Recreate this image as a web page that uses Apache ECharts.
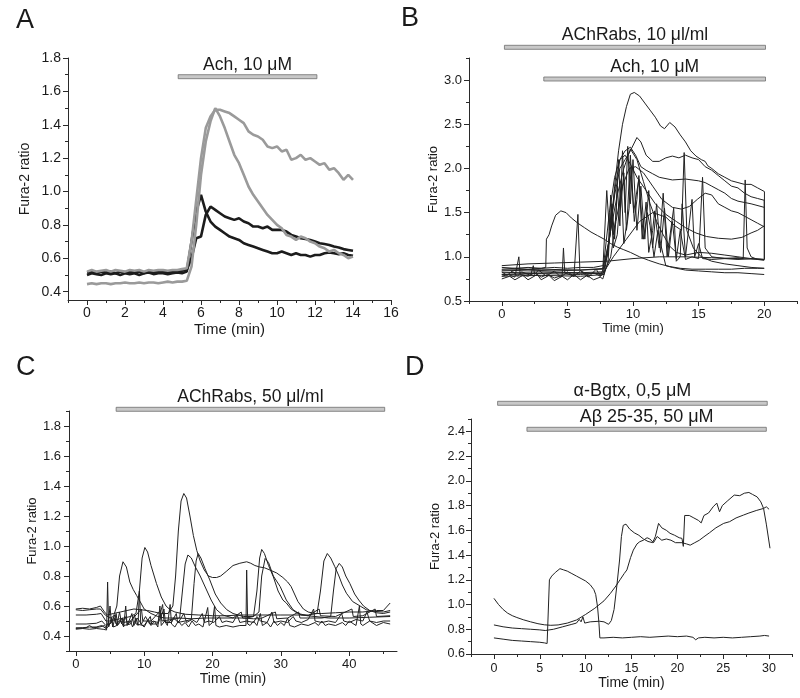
<!DOCTYPE html>
<html><head><meta charset="utf-8">
<script src="https://cdn.jsdelivr.net/npm/echarts@6/dist/echarts.min.js"></script>
<style>html,body{margin:0;padding:0;background:#fff}#c{width:800px;height:698px}</style>
</head><body><div id="c"></div>
<script>
const FONT = '"Liberation Sans", Arial, sans-serif';

// ---------- Panel A ----------
const aTime = [0,0.25,0.5,0.75,1,1.25,1.5,1.75,2,2.25,2.5,2.75,3,3.25,3.5,3.75,4,4.25,4.5,4.75,5,5.25,5.5,5.75,6,6.25,6.5,6.75,7,7.25,7.5,7.75,8,8.25,8.5,8.75,9,9.25,9.5,9.75,10,10.25,10.5,10.75,11,11.25,11.5,11.75,12,12.25,12.5,12.75,13,13.25,13.5,13.75,14];
const aGray1 = [0.52,0.53,0.52,0.525,0.53,0.52,0.53,0.525,0.52,0.53,0.525,0.53,0.52,0.53,0.525,0.53,0.53,0.525,0.53,0.53,0.535,
  0.54,0.70,0.95,1.20,1.38,1.45,1.49,
  1.49,1.48,1.47,1.45,1.43,1.41,1.36,1.34,1.33,1.31,1.27,1.26,1.27,1.24,1.25,1.19,1.20,1.22,1.19,1.20,1.18,1.16,1.17,1.13,1.14,1.11,1.07,1.10,1.07];
const aGray2 = [0.445,0.45,0.445,0.45,0.45,0.445,0.45,0.45,0.455,0.45,0.45,0.455,0.45,0.455,0.455,0.45,0.455,0.46,0.455,0.46,0.46,0.465,
  0.55,0.80,1.10,1.30,1.42,1.50,
  1.45,1.38,1.30,1.22,1.17,1.10,1.03,0.98,0.94,0.90,0.86,0.83,0.80,0.78,0.74,0.73,0.71,0.73,0.72,0.70,0.69,0.67,0.66,0.64,0.65,0.63,0.62,0.60,0.61];
const aBlack1 = [0.50,0.51,0.505,0.5,0.51,0.505,0.51,0.5,0.51,0.505,0.51,0.5,0.51,0.515,0.505,0.51,0.51,0.505,0.51,0.515,0.51,
  0.52,0.70,0.88,0.98,0.88,0.82,0.79,
  0.77,0.75,0.73,0.72,0.71,0.69,0.68,0.67,0.66,0.65,0.64,0.63,0.63,0.64,0.63,0.62,0.63,0.62,0.62,0.61,0.62,0.62,0.63,0.635,0.63,0.625,0.63,0.62,0.615];
const aBlack2 = [0.515,0.52,0.51,0.52,0.515,0.52,0.51,0.52,0.515,0.52,0.515,0.52,0.51,0.52,0.515,0.52,0.52,0.515,0.52,0.52,0.525,
  0.53,0.60,0.72,0.73,0.86,0.91,0.89,
  0.87,0.85,0.84,0.83,0.84,0.82,0.81,0.79,0.79,0.78,0.79,0.77,0.77,0.77,0.76,0.74,0.73,0.72,0.715,0.71,0.70,0.69,0.685,0.68,0.67,0.665,0.655,0.65,0.645];
const aXTicks = [0,2,4,6,8,10,12,14,16];
const aYTicks = [0.4,0.6,0.8,1.0,1.2,1.4,1.6,1.8];

// ---------- Panel B ----------
const b1 = [[0,0.88],[1,0.87],[2,0.88],[3,0.87],[4,0.88],[5,0.87],[6,0.88],[7,0.88],[7.7,0.9],[8.0,1.0],[8.3,1.3],[8.6,1.8],[8.9,2.2],[9.2,2.5],[9.5,2.7],[9.8,2.84],[10.1,2.86],[10.5,2.82],[10.9,2.74],[11.3,2.66],[11.7,2.58],[12.1,2.48],[12.4,2.45],[12.8,2.52],[13.2,2.47],[13.6,2.38],[14.0,2.3],[14.4,2.2],[14.8,2.14],[15.2,2.1],[15.5,2.08],[15.7,2.03],[16.0,2.0],[16.5,1.94],[17.0,1.9],[17.5,1.86],[18.0,1.84],[18.5,1.82],[19.0,1.82],[19.5,1.78],[20.0,1.74]];
const b2 = [[0,0.84],[2,0.85],[4,0.84],[6,0.85],[7.7,0.86],[8.2,1.2],[8.6,1.7],[9.0,2.0],[9.4,2.1],[9.8,2.2],[10.3,2.35],[10.6,2.3],[11.0,2.15],[11.5,2.08],[12.0,2.08],[12.5,2.12],[13.0,2.14],[13.5,2.12],[14.0,2.15],[14.5,2.12],[15.0,2.1],[15.5,2.02],[16.0,1.98],[16.5,1.92],[17.0,1.86],[17.5,1.8],[18.0,1.78],[18.5,1.72],[19.0,1.68],[19.5,1.66],[20.0,1.64],[20.02,0.97]];
const b3 = [[0,0.82],[3,0.83],[6,0.82],[7.7,0.83],[8.2,1.5],[8.6,1.9],[9.0,2.1],[9.4,2.2],[9.8,2.24],[10.2,2.15],[10.6,2.02],[11.0,1.98],[11.5,1.94],[12.0,1.9],[13.0,1.87],[14.0,1.88],[15.0,1.86],[15.5,1.84],[16.0,1.8],[16.5,1.76],[17.0,1.72],[17.5,1.66],[18.0,1.63],[19.0,1.6],[20.0,1.56]];
const b4 = [[0,0.8],[3,0.81],[6,0.8],[7.8,0.82],[8.3,1.0],[8.7,1.4],[9.2,1.8],[9.7,2.0],[10.2,2.02],[10.8,1.95],[11.5,1.8],[12.2,1.65],[13.0,1.56],[13.7,1.54],[14.3,1.57],[14.9,1.65],[15.5,1.72],[16.0,1.7],[16.5,1.6],[17.0,1.56],[17.5,1.52],[18.0,1.5],[18.5,1.46],[19.0,1.42],[19.5,1.38],[20.0,1.34]];
const b5 = [[0,0.78],[3,0.79],[6,0.78],[7.8,0.8],[8.2,1.2],[8.6,1.75],[9.0,2.1],[9.4,2.15],[9.8,2.05],[10.3,1.9],[11.0,1.75],[11.7,1.6],[12.5,1.48],[13.3,1.4],[14.0,1.33],[14.8,1.27],[15.6,1.23],[16.5,1.21],[17.5,1.2],[18.3,1.22],[19.0,1.27],[19.5,1.3],[20.0,1.35]];
const b6 = [[0,0.86],[1,0.87],[2,0.86],[3,0.87],[3.35,0.88],[3.4,1.2],[3.6,1.25],[3.8,1.35],[4.1,1.47],[4.5,1.52],[4.9,1.5],[5.3,1.44],[5.8,1.38],[6.3,1.33],[6.8,1.28],[7.3,1.24],[7.8,1.2],[8.3,1.15],[8.8,1.11],[9.3,1.08],[9.8,1.05],[10.5,1.0],[11.2,0.96],[12.0,0.92],[12.8,0.89],[13.6,0.87],[14.5,0.86],[15.5,0.86],[16.5,0.86],[17.5,0.86],[18.5,0.87],[19.5,0.87],[20.0,0.87]];
const b7 = [[0,0.9],[2,0.92],[4,0.93],[6,0.94],[8,0.95],[10,0.98],[12,1.0],[14,1.0],[16,0.99],[18,0.98],[20,0.97]];
const b8 = [[0,0.78],[0.5,0.8],[1.0,0.77],[1.3,1.0],[1.4,0.8],[2,0.78],[2.5,0.82],[3,0.77],[3.5,0.8],[4,0.76],[4.6,0.79],[4.7,1.1],[4.8,0.82],[5.5,0.78],[5.8,1.48],[5.95,0.85],[6.5,0.8],[7,0.82],[7.5,0.78],[7.7,0.85],[8.0,1.75],[8.2,1.3],[8.4,1.6],[8.6,1.2],[8.8,1.8],[9.0,1.35],[9.2,2.2],[9.4,1.5],[9.6,2.25],[9.8,1.6],[10.0,2.1],[10.3,1.3],[10.6,1.8],[10.9,1.2],[11.2,1.75],[11.5,1.1],[11.8,1.6],[12.1,1.05],[12.4,1.55],[12.7,1.0],[13.0,1.4],[13.3,0.98],[13.6,1.3],[14.0,0.97],[14.5,1.0],[15.0,0.98],[15.3,1.9],[15.5,1.1],[16.0,1.0],[17,0.98],[18,0.99],[18.4,0.98],[18.55,1.87],[18.7,1.1],[19,1.0],[19.5,0.97],[20,0.96]];
const b9 = [[0,0.83],[0.4,0.79],[0.8,0.84],[1.2,0.78],[1.5,0.83],[2.2,0.79],[2.4,0.9],[2.5,0.8],[2.8,0.85],[3.4,0.78],[4.0,0.84],[4.5,0.77],[5.0,0.83],[5.5,0.78],[6.0,0.84],[6.6,0.77],[7.2,0.86],[7.5,0.78],[7.7,0.8],[8.1,1.05],[8.3,1.7],[8.5,1.25],[8.7,1.45],[8.9,2.1],[9.05,1.55],[9.3,1.95],[9.5,1.3],[9.7,1.55],[9.85,2.02],[10.1,1.4],[10.3,1.65],[10.45,1.92],[10.7,1.2],[11.0,1.62],[11.2,1.05],[11.5,1.3],[11.65,1.52],[12.0,1.1],[12.3,1.72],[12.6,1.0],[13.1,1.55],[13.3,0.95],[13.6,1.0],[13.75,1.6],[14.0,1.0],[14.5,1.65],[14.7,1.0],[15.0,1.15],[15.3,0.98],[16.0,0.97],[17.0,0.98],[18.0,0.97],[19.0,0.98],[20.0,0.97]];
const b10 = [[0,0.75],[0.6,0.78],[1,0.74],[1.6,0.79],[2,0.74],[2.7,0.8],[3,0.74],[3.6,0.79],[4,0.73],[4.6,0.78],[5,0.74],[5.5,0.8],[6,0.74],[6.5,0.79],[7,0.74],[7.5,0.77],[7.7,0.75],[8.1,0.95],[8.35,1.55],[8.5,1.1],[8.8,1.25],[9.1,1.85],[9.3,1.15],[9.55,1.4],[9.8,2.15],[10.05,1.5],[10.25,1.7],[10.45,1.88],[10.8,1.2],[11.1,1.5],[11.3,1.35],[11.6,1.0],[11.9,1.3],[12.1,1.15],[12.5,0.9],[13.0,0.88],[14,0.85],[15,0.84],[16,0.83],[17,0.82],[18,0.82],[19,0.81],[20,0.8]];
const b11 = [[0,0.85],[3,0.86],[6,0.85],[7.8,0.87],[8.3,1.3],[8.8,1.7],[9.3,2.0],[9.8,2.22],[10.3,2.1],[10.8,1.85],[11.3,1.6],[11.8,1.4],[12.3,1.25],[12.8,1.12],[13.3,1.05],[14,1.02],[15,1.05],[16,1.04],[17,1.02],[18,1.0],[19,0.98],[20,0.97],[20.02,1.74]];
const b12 = [[0,0.8],[4,0.82],[7.7,0.81],[8.5,1.0],[9.5,1.2],[10.5,1.4],[11.5,1.5],[12.5,1.45],[13.2,1.35],[13.7,1.3],[13.9,2.18],[14.1,1.3],[14.6,1.1],[15.2,1.0],[16,0.95],[17,0.92],[18,0.9],[19,0.88],[20,0.87]];
const bXTicks = [0,5,10,15,20];
const bYTicks = [0.5,1.0,1.5,2.0,2.5,3.0];

// ---------- Panel C ----------
const c1 = [[0,0.58],[1,0.585],[2,0.58],[3,0.59],[3.6,0.6],[4.2,0.56],[4.6,0.54],[5.5,0.55],[6.5,0.56],[7.5,0.57],[8.5,0.58],[9.5,0.575],[10.5,0.57],[11.5,0.56],[12.5,0.55],[13.5,0.55],[14.2,0.6],[14.6,0.8],[15.0,1.1],[15.4,1.3],[15.8,1.35],[16.2,1.32],[16.7,1.2],[17.2,1.07],[17.7,0.97],[18.2,0.9],[18.8,0.84],[19.4,0.8],[20,0.79],[20.6,0.79],[21.2,0.8],[22,0.83],[23,0.87],[24,0.885],[25,0.895],[25.6,0.885],[26.2,0.87],[26.9,0.86],[27.6,0.855],[28.4,0.84],[29.4,0.82],[30.3,0.79],[31.0,0.76],[31.5,0.73],[32,0.68],[32.5,0.63],[33.3,0.58],[34,0.56],[35,0.55],[36,0.55],[38,0.555],[40,0.56],[42,0.56],[44,0.57],[45,0.57],[46,0.62]];
const c2 = [[0,0.575],[1,0.57],[2,0.575],[3,0.58],[3.6,0.58],[4.3,0.54],[5,0.52],[5.5,0.53],[6.0,0.6],[6.4,0.8],[6.9,0.895],[7.4,0.86],[7.9,0.76],[8.4,0.71],[8.9,0.67],[9.4,0.63],[10,0.58],[11,0.55],[12,0.53],[13,0.52],[15,0.52],[17,0.515],[19,0.52],[21,0.52],[23,0.52],[25,0.52],[26,0.53],[26.5,0.7],[26.9,0.92],[27.2,0.977],[27.6,0.95],[28.2,0.87],[28.9,0.795],[29.6,0.7],[30.3,0.64],[30.8,0.62],[31.5,0.58],[32.5,0.55],[34,0.535],[35.6,0.58],[35.8,0.535],[38,0.53],[40.4,0.58],[40.6,0.53],[42,0.535],[43.8,0.58],[44,0.53],[46,0.535]];
const c3 = [[0,0.54],[1.5,0.54],[3,0.545],[3.7,0.55],[4.4,0.5],[5,0.5],[6,0.51],[7,0.52],[8,0.53],[8.8,0.55],[9.3,0.7],[9.7,0.92],[10.1,0.99],[10.5,0.96],[11,0.87],[11.8,0.75],[12.5,0.66],[13.2,0.6],[13.8,0.575],[14.5,0.56],[16,0.545],[18,0.54],[20,0.535],[22,0.535],[24,0.54],[26,0.54],[28,0.54],[30,0.54],[32,0.54],[34,0.54],[35.3,0.55],[35.8,0.7],[36.3,0.9],[36.8,0.95],[37.3,0.92],[37.9,0.862],[38.5,0.8],[39.0,0.74],[39.6,0.685],[40.5,0.63],[41.6,0.6],[42.5,0.575],[43.5,0.565],[45,0.56],[46,0.57]];
const c4 = [[0,0.48],[1.5,0.48],[3,0.485],[3.8,0.5],[4.4,0.47],[5,0.48],[5.7,0.54],[5.9,0.48],[6.8,0.52],[7,0.49],[8,0.5],[9.6,0.58],[9.8,0.5],[11,0.5],[12.4,0.57],[12.6,0.5],[14,0.51],[15.2,0.52],[15.6,0.7],[16.0,0.88],[16.4,0.94],[16.9,0.92],[17.5,0.86],[18.2,0.8],[19,0.72],[19.8,0.64],[20.6,0.575],[21.5,0.54],[23,0.52],[24.2,0.56],[24.4,0.52],[26,0.515],[27,0.515],[29.2,0.56],[29.4,0.515],[31,0.52],[32.6,0.56],[32.8,0.52],[35,0.52],[36,0.52],[37.3,0.53],[37.7,0.7],[38.1,0.85],[38.55,0.884],[39.0,0.86],[39.5,0.8],[40.1,0.75],[40.8,0.68],[41.4,0.64],[42.1,0.6],[43,0.57],[44,0.555],[45,0.55],[46,0.56]];
const c5 = [[0,0.45],[1.5,0.455],[2,0.47],[2.5,0.455],[3.5,0.46],[4.2,0.47],[4.5,0.45],[5.3,0.5],[5.5,0.46],[6,0.47],[6.8,0.52],[7,0.47],[8,0.48],[8.6,0.54],[8.8,0.48],[10,0.47],[10.9,0.53],[11.1,0.48],[12,0.48],[12.9,0.58],[13.1,0.49],[14,0.49],[14.7,0.55],[14.9,0.49],[16,0.5],[16.9,0.51],[17.3,0.75],[17.6,0.9],[17.9,0.95],[18.3,0.92],[18.9,0.85],[19.6,0.774],[20.4,0.68],[21.2,0.62],[22.1,0.575],[23,0.55],[24.5,0.53],[26,0.53],[26.8,0.56],[27.2,0.8],[27.7,0.917],[28.2,0.89],[28.9,0.8],[29.9,0.73],[30.8,0.64],[31.8,0.575],[33,0.54],[35,0.53],[37,0.52],[40,0.52],[43,0.525],[46,0.53]];
const c6 = [[0,0.445],[1,0.45],[2,0.445],[3,0.45],[4,0.445],[4.5,0.44],[4.65,0.76],[4.8,0.46],[5.2,0.52],[5.4,0.46],[5.9,0.55],[6.1,0.47],[6.6,0.5],[7.0,0.46],[7.3,0.6],[7.5,0.47],[8.0,0.5],[8.3,0.46],[8.8,0.52],[9.1,0.47],[9.3,0.7],[9.5,0.48],[10,0.46],[10.6,0.51],[11,0.47],[11.5,0.5],[12.0,0.46],[12.3,0.6],[12.5,0.47],[13,0.5],[13.4,0.47],[13.8,0.61],[14,0.48],[14.5,0.46],[15,0.5],[15.5,0.47],[16,0.49],[16.5,0.46],[17,0.5],[17.5,0.47],[18,0.48],[18.6,0.46],[19.3,0.59],[19.5,0.47],[20,0.49],[20.3,0.6],[20.5,0.47],[21,0.46],[22,0.47],[23,0.46],[24,0.47],[24.9,0.47],[25,0.84],[25.15,0.48],[25.5,0.47],[26,0.5],[26.5,0.47],[27,0.55],[27.3,0.47],[28,0.49],[28.5,0.46],[29,0.5],[29.5,0.47],[30,0.49],[30.5,0.47],[31,0.52],[31.3,0.47],[32,0.46],[33,0.48],[34,0.47],[35,0.49],[35.5,0.47],[36,0.5],[36.5,0.47],[37,0.48],[38,0.47],[39,0.49],[39.5,0.47],[40,0.5],[41,0.47],[41.5,0.6],[41.7,0.48],[42,0.47],[43,0.5],[44,0.47],[45,0.49],[46,0.48]];
const c7 = [[0,0.455],[1,0.455],[2,0.46],[3,0.46],[3.8,0.47],[4.4,0.45],[4.8,0.5],[5.0,0.6],[5.2,0.49],[5.6,0.52],[6,0.47],[6.4,0.56],[6.7,0.48],[7.2,0.53],[7.6,0.48],[8.2,0.55],[8.5,0.47],[9,0.52],[9.6,0.48],[10.2,0.53],[10.8,0.48],[11.3,0.5],[12,0.49],[12.7,0.61],[12.9,0.5],[13.5,0.49],[14.3,0.52],[15,0.49],[15.8,0.55],[16.2,0.49],[17,0.51],[17.7,0.49],[18.5,0.55],[18.8,0.49],[19.5,0.5],[20.2,0.49],[21,0.53],[21.4,0.49],[22,0.5],[23,0.49],[23.6,0.54],[24,0.49],[25,0.5],[26,0.49],[26.5,0.53],[27,0.5],[28,0.49],[28.7,0.56],[29,0.49],[30,0.5],[31,0.49],[31.8,0.53],[32.2,0.5],[33,0.49],[34,0.51],[34.8,0.58],[35,0.5],[36,0.49],[37,0.5],[38,0.49],[38.9,0.55],[39.2,0.5],[40,0.49],[41,0.51],[42,0.5],[42.6,0.56],[43,0.5],[44,0.49],[45,0.5],[46,0.5]];
const cXTicks = [0,10,20,30,40];
const cYTicks = [0.4,0.6,0.8,1.0,1.2,1.4,1.6,1.8];

// ---------- Panel D ----------
const d1 = [[0,0.73],[1,0.72],[2,0.71],[3,0.705],[4,0.7],[5,0.695],[5.5,0.69],[5.8,0.685],[5.95,0.7],[6.05,1.2],[6.3,1.23],[6.7,1.26],[7.2,1.29],[7.6,1.28],[8.0,1.27],[8.5,1.25],[9.0,1.23],[9.5,1.21],[10.0,1.19],[10.5,1.16],[10.9,1.12],[11.1,1.08],[11.3,0.98],[11.45,0.85],[11.55,0.73],[12,0.73],[13,0.735],[14,0.73],[15,0.735],[16,0.74],[17,0.735],[18,0.74],[19,0.745],[20,0.74],[21,0.745],[21.7,0.735],[22,0.715],[22.3,0.73],[23,0.735],[24,0.73],[25,0.735],[26,0.73],[27,0.735],[28,0.74],[29,0.745],[29.5,0.75],[30,0.745]];
const d2 = [[0,0.835],[1,0.82],[2,0.81],[3,0.805],[4,0.8],[5,0.795],[5.6,0.79],[6.5,0.8],[7.5,0.82],[8.5,0.84],[9.0,0.85],[9.3,0.88],[9.5,0.86],[9.7,0.9],[9.9,0.85],[10.5,0.86],[11.5,0.865],[12.0,0.86],[12.5,0.84],[12.8,0.87],[13.1,0.96],[13.4,1.15],[13.7,1.36],[13.9,1.55],[14.1,1.64],[14.4,1.65],[14.8,1.61],[15.3,1.58],[15.8,1.56],[16.3,1.53],[16.8,1.51],[17.3,1.5],[17.6,1.55],[17.95,1.656],[18.3,1.62],[18.8,1.6],[19.2,1.576],[19.7,1.56],[20.2,1.54],[20.5,1.535],[20.65,1.47],[20.8,1.72],[21.3,1.72],[21.8,1.7],[22.3,1.68],[22.6,1.66],[22.9,1.72],[23.4,1.74],[23.9,1.79],[24.3,1.82],[24.6,1.75],[24.9,1.8],[25.5,1.84],[26.2,1.885],[26.8,1.88],[27.3,1.9],[27.8,1.906],[28.2,1.89],[28.7,1.87],[29.1,1.83],[29.4,1.777],[29.7,1.65],[30.1,1.455]];
const d3 = [[0,1.05],[0.5,1.0],[1,0.96],[1.5,0.93],[2,0.91],[2.5,0.895],[3.2,0.877],[4,0.86],[4.8,0.845],[5.5,0.836],[6.2,0.832],[7,0.835],[8,0.85],[9,0.875],[10,0.92],[11,0.97],[12,1.03],[12.7,1.09],[13.3,1.15],[13.75,1.2],[14.2,1.25],[14.5,1.28],[14.9,1.38],[15.2,1.44],[15.6,1.49],[15.9,1.508],[16.3,1.52],[16.7,1.54],[17.0,1.53],[17.4,1.5],[17.8,1.55],[18.3,1.52],[18.8,1.53],[19.3,1.52],[19.8,1.5],[20.5,1.5],[21.0,1.49],[21.4,1.48],[21.9,1.5],[22.4,1.52],[22.9,1.548],[23.5,1.58],[24.2,1.62],[25.05,1.656],[25.7,1.67],[26.4,1.7],[27.2,1.723],[27.8,1.74],[28.6,1.76],[29.4,1.777],[29.7,1.79],[30.0,1.77]];
const dXTicks = [0,5,10,15,20,25,30];
const dYTicks = [0.6,0.8,1.0,1.2,1.4,1.6,1.8,2.0,2.2,2.4];

// ---------- treatment bars (time ranges) ----------
const aBars = [{start:4.8, end:12.1, label:'Ach, 10 μM'}];
const bBars = [{start:0.2, end:20.1, label:'AChRabs, 10 μl/ml'},{start:3.2, end:20.1, label:'Ach, 10 μM'}];
const cBars = [{start:5.9, end:45.2, label:'AChRabs, 50 μl/ml'}];
const dBars = [{start:0.4, end:29.8, label:'α-Bgtx, 0,5 μM'},{start:3.6, end:29.7, label:'Aβ 25-35, 50 μM'}];

// ---------- layout ----------
function range(a, b, s){ const r=[]; for(let v=a; v<=b+1e-9; v+=s) r.push(Math.round(v*1000)/1000); return r; }
const panels = [
  {letter:'A', lx:16, ly:7, grid:{left:68, top:58, width:323, height:242},
   x:{min:-1, max:16, major:aXTicks, minor:range(-1,15,2), fs:14, dec:0, name:'Time (min)', nfs:15, gap:22, margin:6},
   y:{min:0.35, max:1.8, major:aYTicks, minor:range(0.5,1.7,0.2), fs:14, dec:1, name:'Fura-2 ratio', nfs:14, gap:36, margin:7},
   bars:aBars, barOff:[18.7], barFs:17.5},
  {letter:'B', lx:401, ly:5, grid:{left:469, top:58, width:328, height:243},
   x:{min:-2.5, max:22.5, major:bXTicks, minor:range(-2.5,22.5,5), fs:13, dec:0, name:'Time (min)', nfs:13, gap:17, margin:7},
   y:{min:0.5, max:3.25, major:bYTicks, minor:range(0.75,3.25,0.5), fs:13, dec:1, name:'Fura-2 ratio', nfs:13, gap:29, margin:7},
   bars:bBars, barOff:[-10.7, 21], barFs:17.5},
  {letter:'C', lx:16, ly:354, grid:{left:69, top:411, width:328, height:240},
   x:{min:-1, max:47, major:cXTicks, minor:range(5,45,10), fs:13, dec:0, name:'Time (min)', nfs:14, gap:20, margin:7},
   y:{min:0.3, max:1.9, major:cYTicks, minor:range(0.3,1.9,0.2), fs:13, dec:1, name:'Fura-2 ratio', nfs:13, gap:29, margin:8},
   bars:cBars, barOff:[-1.7], barFs:17.5},
  {letter:'D', lx:405, ly:354, grid:{left:471, top:419, width:321, height:235},
   x:{min:-2.5, max:32.5, major:dXTicks, minor:range(-2.5,32.5,5), fs:12.5, dec:0, name:'Time (min)', nfs:14, gap:20, margin:8},
   y:{min:0.6, max:2.5, major:dYTicks, minor:range(0.7,2.5,0.2), fs:12.5, dec:1, name:'Fura-2 ratio', nfs:13, gap:29, margin:6},
   bars:dBars, barOff:[-15.7, 10.3], barFs:18}
];

const AX = '#2a2a2a';
const grids = [], xAxes = [], yAxes = [], series = [], graphics = [];
panels.forEach((p, i) => {
  grids.push(Object.assign({containLabel:false}, p.grid));
  const common = (ax) => ({
    type:'value', gridIndex:i, min:ax.min, max:ax.max, scale:true,
    splitLine:{show:false}
  });
  xAxes.push(Object.assign(common(p.x), {
    position:'bottom',
    axisLine:{show:true, onZero:false, lineStyle:{color:AX, width:1}},
    axisTick:{show:true, length:5, customValues:p.x.major, lineStyle:{color:AX}},
    axisLabel:{customValues:p.x.major, fontSize:p.x.fs, fontFamily:FONT, color:'#1a1a1a', margin:p.x.margin,
      formatter:v=>Number(v).toFixed(p.x.dec)},
    name:p.x.name, nameLocation:'middle', nameGap:p.x.gap,
    nameTextStyle:{fontSize:p.x.nfs, fontFamily:FONT, color:'#1a1a1a'}
  }));
  xAxes.push(Object.assign(common(p.x), {
    position:'bottom',
    axisLine:{show:false, onZero:false},
    axisTick:{show:true, length:3, customValues:p.x.minor, lineStyle:{color:AX}},
    axisLabel:{show:false}
  }));
  yAxes.push(Object.assign(common(p.y), {
    position:'left',
    axisLine:{show:true, onZero:false, lineStyle:{color:AX, width:1}},
    axisTick:{show:true, length:5, customValues:p.y.major, lineStyle:{color:AX}},
    axisLabel:{customValues:p.y.major, fontSize:p.y.fs, fontFamily:FONT, color:'#1a1a1a', margin:p.y.margin,
      formatter:v=>Number(v).toFixed(p.y.dec)},
    name:p.y.name, nameLocation:'middle', nameGap:p.y.gap,
    nameTextStyle:{fontSize:p.y.nfs, fontFamily:FONT, color:'#1a1a1a'}
  }));
  yAxes.push(Object.assign(common(p.y), {
    position:'left',
    axisLine:{show:false, onZero:false},
    axisTick:{show:true, length:3, customValues:p.y.minor, lineStyle:{color:AX}},
    axisLabel:{show:false}
  }));
  // treatment bars
  series.push({
    type:'custom', xAxisIndex:2*i, yAxisIndex:2*i, clip:false, silent:true, z:5,
    data:p.bars.map(b => [b.start, b.end, p.y.max]),
    encode:{x:[0,1], y:2},
    renderItem:(params, api) => {
      const b = p.bars[params.dataIndex];
      const top = params.coordSys.y;
      const y = top + p.barOff[params.dataIndex];
      const x1 = api.coord([api.value(0), p.y.max])[0];
      const x2 = api.coord([api.value(1), p.y.max])[0];
      return {type:'group', children:[
        {type:'rect', shape:{x:x1, y:y-2, width:x2-x1, height:4},
         style:{fill:'#c8c8c8', stroke:'#6e6e6e', lineWidth:0.8}},
        {type:'text', style:{text:b.label, x:(x1+x2)/2, y:y-12, align:'center', verticalAlign:'middle',
          fontSize:p.barFs, fontFamily:FONT, fill:'#1a1a1a'}}
      ]};
    }
  });
  graphics.push({type:'text', left:p.lx, top:p.ly, style:{text:p.letter, fontSize:27, fontFamily:FONT, fill:'#1a1a1a'}});
});

function line(gi, data, color, width, z){
  return {type:'line', xAxisIndex:2*gi, yAxisIndex:2*gi, data:data, showSymbol:false, symbol:'none',
    lineStyle:{color:color, width:width}, itemStyle:{color:color}, z:z||2, silent:true};
}
const pairs = (t, v) => t.map((x, k) => [x, v[k]]);
series.push(line(0, pairs(aTime, aBlack1), '#1c1c1c', 2.6, 2));
series.push(line(0, pairs(aTime, aBlack2), '#1c1c1c', 2.6, 2));
series.push(line(0, pairs(aTime, aGray2), '#9a9a9a', 2.6, 3));
series.push(line(0, pairs(aTime, aGray1), '#9a9a9a', 2.6, 3));
[b1,b2,b3,b4,b5,b6,b7,b8,b9,b10,b11,b12].forEach(d => series.push(line(1, d, '#222', 1)));
[c1,c2,c3,c4,c5,c6,c7].forEach(d => series.push(line(2, d, '#222', 1)));
[d1,d2,d3].forEach(d => series.push(line(3, d, '#222', 1)));

const chart = echarts.init(document.getElementById('c'), null, {renderer:'canvas'});
chart.setOption({
  animation:false, backgroundColor:'#fff',
  grid:grids, xAxis:xAxes, yAxis:yAxes, series:series, graphic:graphics
});
</script></body></html>
